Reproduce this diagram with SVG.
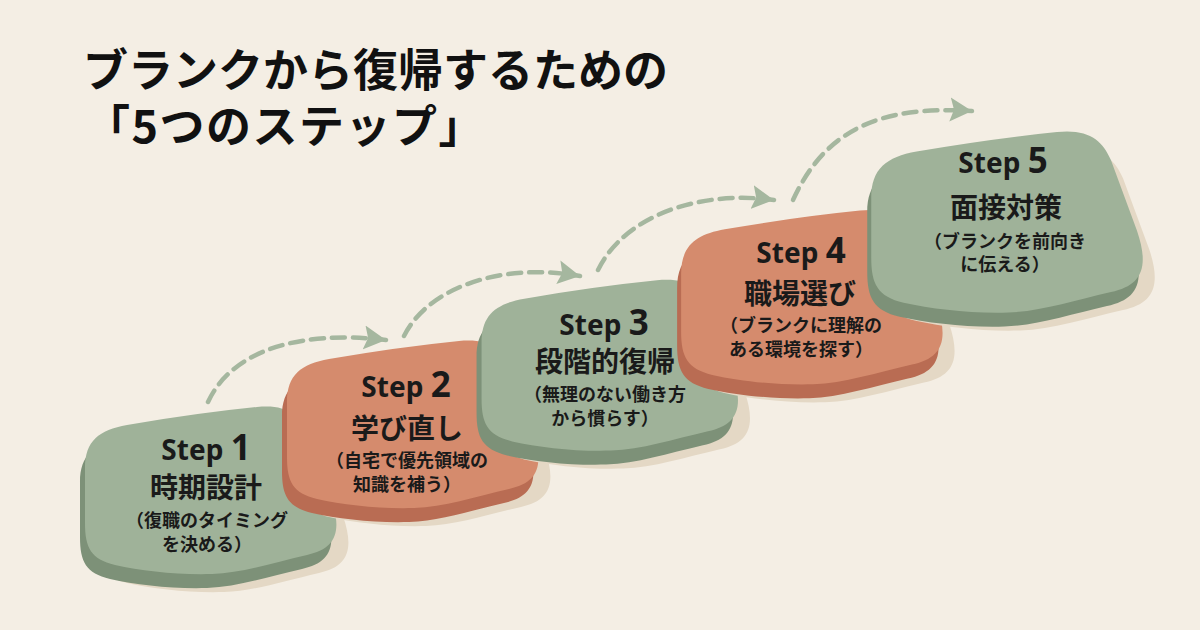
<svg xmlns="http://www.w3.org/2000/svg" xmlns:xlink="http://www.w3.org/1999/xlink" width="1200" height="630" viewBox="0 0 1200 630">
<style>
.title{font-family:"Noto Sans CJK JP","Noto Sans",sans-serif;font-weight:700;font-size:45px;fill:#111}
.step{font-family:"Noto Sans","Noto Sans CJK JP",sans-serif;font-weight:700;font-size:28px;fill:#1a1a1a;text-anchor:middle}
.num{font-size:35px}
.head{font-family:"Noto Sans CJK JP",sans-serif;font-weight:700;font-size:28px;fill:#1a1a1a;text-anchor:middle}
.sub{font-family:"Noto Sans CJK JP",sans-serif;font-weight:700;font-size:18px;fill:#1a1a1a;text-anchor:middle}
.shadow{fill:#e4d8c5}
.g-side{fill:#7d9178}
.g-top{fill:#9fb299}
.s-side{fill:#b96c53}
.s-top{fill:#d58b6d}
.arrow{fill:none;stroke:#a5b79f;stroke-width:4.5;stroke-dasharray:13 8;stroke-linecap:round}
</style>
<defs>
<path id="slab" d="M -122,-25 C -122,-52 -108,-63 -80,-68 Q -10,-80 50,-86 C 80,-89 92,-78 100,-60 L 124,5 C 136,40 128,56 100,62 C 65,70 35,80 5,81 C -30,82 -65,78 -92,72 C -116,66 -122,55 -122,30 Z"/>
<marker id="head" markerUnits="userSpaceOnUse" markerWidth="26" markerHeight="26" refX="22" refY="12" orient="auto" viewBox="0 0 26 24">
<path d="M 0,0 L 22,12 L 0,24 L 4,12 Z" fill="#a5b79f"/>
</marker>
</defs>
<rect width="1200" height="630" fill="#f4eee4"/>
<g id="title">
<text class="title" x="83" y="87">ブランクから復帰するための</text>
<text class="title" x="85" y="143" letter-spacing="1.5">「5つのステップ」</text>
</g>
<g id="connectors">
<path class="arrow" d="M 208,402 C 232,350 300,330 386,340" marker-end="url(#head)"/>
<path class="arrow" d="M 404,336 C 428,288 500,262 580,276" marker-end="url(#head)"/>
<path class="arrow" d="M 598,270 C 625,215 700,190 774,200" marker-end="url(#head)"/>
<path class="arrow" d="M 793,200 C 825,130 880,105 972,111" marker-end="url(#head)"/>
</g>
<g id="step1">
<use xlink:href="#slab" class="shadow" transform="translate(219,511)"/>
<use xlink:href="#slab" class="g-side" transform="translate(202,507)"/>
<use xlink:href="#slab" class="g-top" transform="translate(207,493)"/>
<text class="step" x="206" y="460">Step <tspan class="num">1</tspan></text>
<text class="head" x="206" y="498">時期設計</text>
<text class="sub" x="207" y="527">（復職のタイミング</text>
<text class="sub" x="207" y="551">を決める）</text>
</g>
<g id="step2">
<use xlink:href="#slab" class="shadow" transform="translate(421,445)"/>
<use xlink:href="#slab" class="s-side" transform="translate(404,441)"/>
<use xlink:href="#slab" class="s-top" transform="translate(409,427)"/>
<text class="step" x="406" y="397">Step <tspan class="num">2</tspan></text>
<text class="head" x="407" y="439">学び直し</text>
<text class="sub" x="407" y="467">（自宅で優先領域の</text>
<text class="sub" x="407" y="491">知識を補う）</text>
</g>
<g id="step3">
<use xlink:href="#slab" class="shadow" transform="translate(618,386) scale(1.02)"/>
<use xlink:href="#slab" class="g-side" transform="translate(601,382) scale(1.02)"/>
<use xlink:href="#slab" class="g-top" transform="translate(606,368) scale(1.02)"/>
<text class="step" x="604" y="335">Step <tspan class="num">3</tspan></text>
<text class="head" x="605" y="372">段階的復帰</text>
<text class="sub" x="605" y="401">（無理のない働き方</text>
<text class="sub" x="605" y="425">から慣らす）</text>
</g>
<g id="step4">
<use xlink:href="#slab" class="shadow" transform="translate(820,318) scale(1.04)"/>
<use xlink:href="#slab" class="s-side" transform="translate(804,314) scale(1.04)"/>
<use xlink:href="#slab" class="s-top" transform="translate(808,300) scale(1.04)"/>
<text class="step" x="801" y="263">Step <tspan class="num">4</tspan></text>
<text class="head" x="800" y="304">職場選び</text>
<text class="sub" x="801" y="332">（ブランクに理解の</text>
<text class="sub" x="801" y="356">ある環境を探す）</text>
</g>
<g id="step5">
<use xlink:href="#slab" class="shadow" transform="translate(1015,243) scale(1.08)"/>
<use xlink:href="#slab" class="g-side" transform="translate(999,239) scale(1.08)"/>
<use xlink:href="#slab" class="g-top" transform="translate(1003,225) scale(1.08)"/>
<text class="step" x="1003" y="173">Step <tspan class="num">5</tspan></text>
<text class="head" x="1006" y="218">面接対策</text>
<text class="sub" x="1005" y="248">（ブランクを前向き</text>
<text class="sub" x="1005" y="271">に伝える）</text>
</g>
</svg>
